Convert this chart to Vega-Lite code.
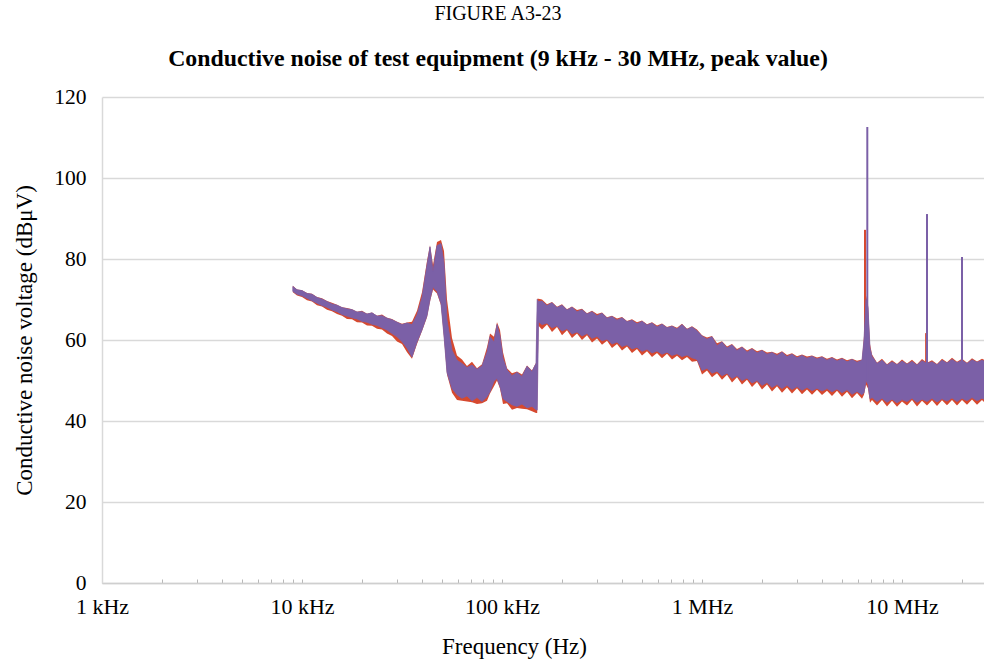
{
  "$schema": "https://vega.github.io/schema/vega-lite/v6.json",
  "width": 882,
  "height": 486,
  "autosize": {"type": "none"},
  "padding": {"left": 102, "top": 97, "right": 0, "bottom": 78},
  "background": "white",
  "title": {
    "text": "FIGURE A3-23",
    "subtitle": "Conductive noise of test equipment (9 kHz - 30 MHz, peak value)",
    "anchor": "middle",
    "frame": "group",
    "dx": -45,
    "offset": 15,
    "font": "Liberation Serif",
    "fontSize": 20,
    "fontWeight": "normal",
    "color": "#000000",
    "subtitleFont": "Liberation Serif",
    "subtitleFontSize": 23.8,
    "subtitleFontWeight": "bold",
    "subtitleColor": "#000000",
    "subtitlePadding": 23
  },
  "datasets": {
    "band": [
      {"f": 9000, "lo": 72.0, "hi": 73.2, "rlo": 71.8, "rhi": 73.4},
      {"f": 9441, "lo": 71.3, "hi": 72.4, "rlo": 71.0, "rhi": 72.5},
      {"f": 10000, "lo": 70.9, "hi": 72.2, "rlo": 70.6, "rhi": 72.3},
      {"f": 10593, "lo": 70.3, "hi": 71.5, "rlo": 69.8, "rhi": 71.6},
      {"f": 11220, "lo": 69.7, "hi": 71.3, "rlo": 69.5, "rhi": 71.4},
      {"f": 11885, "lo": 69.1, "hi": 70.5, "rlo": 68.6, "rhi": 70.6},
      {"f": 12589, "lo": 68.5, "hi": 70.1, "rlo": 68.3, "rhi": 70.3},
      {"f": 13335, "lo": 68.1, "hi": 69.5, "rlo": 67.5, "rhi": 69.6},
      {"f": 14125, "lo": 67.4, "hi": 68.9, "rlo": 67.1, "rhi": 69.2},
      {"f": 14962, "lo": 67.0, "hi": 68.6, "rlo": 66.4, "rhi": 68.7},
      {"f": 15849, "lo": 66.3, "hi": 68.0, "rlo": 66.0, "rhi": 68.1},
      {"f": 16788, "lo": 65.9, "hi": 67.7, "rlo": 65.2, "rhi": 67.9},
      {"f": 17783, "lo": 65.5, "hi": 67.5, "rlo": 65.1, "rhi": 67.6},
      {"f": 18836, "lo": 65.2, "hi": 66.9, "rlo": 64.4, "rhi": 67.0},
      {"f": 19953, "lo": 64.6, "hi": 67.0, "rlo": 64.3, "rhi": 67.2},
      {"f": 21135, "lo": 64.4, "hi": 66.4, "rlo": 63.6, "rhi": 66.5},
      {"f": 22387, "lo": 63.9, "hi": 66.7, "rlo": 63.5, "rhi": 66.8},
      {"f": 23714, "lo": 63.6, "hi": 65.9, "rlo": 62.8, "rhi": 66.0},
      {"f": 25119, "lo": 63.0, "hi": 66.0, "rlo": 62.6, "rhi": 66.3},
      {"f": 26607, "lo": 62.5, "hi": 65.4, "rlo": 61.6, "rhi": 65.5},
      {"f": 28184, "lo": 61.6, "hi": 65.0, "rlo": 61.0, "rhi": 65.2},
      {"f": 29854, "lo": 60.8, "hi": 64.4, "rlo": 59.6, "rhi": 64.5},
      {"f": 31623, "lo": 59.6, "hi": 63.8, "rlo": 59.0, "rhi": 64.0},
      {"f": 33497, "lo": 58.0, "hi": 64.2, "rlo": 57.0, "rhi": 64.3},
      {"f": 35481, "lo": 55.8, "hi": 63.8, "rlo": 55.4, "rhi": 64.5},
      {"f": 37584, "lo": 59.5, "hi": 66.2, "rlo": 59.0, "rhi": 67.2},
      {"f": 39811, "lo": 62.5, "hi": 70.5, "rlo": 62.2, "rhi": 71.8},
      {"f": 42170, "lo": 66.0, "hi": 78.5, "rlo": 65.6, "rhi": 79.5},
      {"f": 43652, "lo": 70.0, "hi": 83.0, "rlo": 69.5, "rhi": 83.4},
      {"f": 45186, "lo": 73.0, "hi": 77.0, "rlo": 72.5, "rhi": 78.5},
      {"f": 47315, "lo": 72.0, "hi": 83.3, "rlo": 71.5, "rhi": 84.2},
      {"f": 49545, "lo": 69.0, "hi": 83.8, "rlo": 68.6, "rhi": 84.7},
      {"f": 51286, "lo": 61.0, "hi": 79.0, "rlo": 60.5, "rhi": 82.0},
      {"f": 53088, "lo": 52.0, "hi": 65.0, "rlo": 51.5, "rhi": 70.0},
      {"f": 56234, "lo": 48.0, "hi": 57.5, "rlo": 47.0, "rhi": 60.5},
      {"f": 59566, "lo": 46.5, "hi": 55.0, "rlo": 45.2, "rhi": 56.2},
      {"f": 63096, "lo": 45.6, "hi": 54.2, "rlo": 45.0, "rhi": 55.2},
      {"f": 66834, "lo": 46.2, "hi": 53.2, "rlo": 44.8, "rhi": 53.6},
      {"f": 70795, "lo": 45.0, "hi": 53.8, "rlo": 44.6, "rhi": 54.6},
      {"f": 74989, "lo": 45.8, "hi": 52.8, "rlo": 44.2, "rhi": 53.0},
      {"f": 79433, "lo": 44.8, "hi": 53.6, "rlo": 44.4, "rhi": 54.0},
      {"f": 84140, "lo": 46.0, "hi": 57.0, "rlo": 45.0, "rhi": 58.2},
      {"f": 87096, "lo": 47.2, "hi": 60.8, "rlo": 46.8, "rhi": 61.6},
      {"f": 91201, "lo": 49.8, "hi": 59.5, "rlo": 48.6, "rhi": 60.8},
      {"f": 94406, "lo": 50.5, "hi": 63.8, "rlo": 50.0, "rhi": 64.4},
      {"f": 97724, "lo": 48.5, "hi": 61.0, "rlo": 48.0, "rhi": 62.5},
      {"f": 101158, "lo": 45.5, "hi": 55.5, "rlo": 44.2, "rhi": 57.0},
      {"f": 105925, "lo": 44.8, "hi": 52.6, "rlo": 44.4, "rhi": 53.0},
      {"f": 112202, "lo": 44.0, "hi": 51.2, "rlo": 42.8, "rhi": 51.8},
      {"f": 118850, "lo": 43.6, "hi": 52.0, "rlo": 43.2, "rhi": 52.2},
      {"f": 125893, "lo": 44.2, "hi": 51.0, "rlo": 43.0, "rhi": 51.5},
      {"f": 133352, "lo": 43.3, "hi": 53.5, "rlo": 42.9, "rhi": 53.7},
      {"f": 141254, "lo": 43.6, "hi": 52.2, "rlo": 42.4, "rhi": 52.5},
      {"f": 147911, "lo": 42.8, "hi": 54.2, "rlo": 42.0, "rhi": 54.4},
      {"f": 150000, "lo": 42.7, "hi": 70.0, "rlo": 42.0, "rhi": 70.2},
      {"f": 152230, "lo": 64.5, "hi": 69.5, "rlo": 63.5, "rhi": 70.2},
      {"f": 158489, "lo": 63.8, "hi": 69.6, "rlo": 62.6, "rhi": 70.0},
      {"f": 167880, "lo": 64.2, "hi": 68.5, "rlo": 63.8, "rhi": 68.8},
      {"f": 177828, "lo": 63.0, "hi": 69.2, "rlo": 62.0, "rhi": 69.4},
      {"f": 188365, "lo": 63.5, "hi": 68.0, "rlo": 63.2, "rhi": 68.2},
      {"f": 199526, "lo": 62.2, "hi": 68.6, "rlo": 61.2, "rhi": 68.8},
      {"f": 211349, "lo": 62.8, "hi": 67.4, "rlo": 62.4, "rhi": 67.6},
      {"f": 223872, "lo": 61.5, "hi": 68.1, "rlo": 60.5, "rhi": 68.3},
      {"f": 237137, "lo": 62.0, "hi": 67.0, "rlo": 61.6, "rhi": 67.4},
      {"f": 251189, "lo": 61.0, "hi": 67.5, "rlo": 60.0, "rhi": 67.7},
      {"f": 266073, "lo": 61.6, "hi": 66.4, "rlo": 61.2, "rhi": 66.6},
      {"f": 281838, "lo": 60.4, "hi": 67.0, "rlo": 59.4, "rhi": 67.2},
      {"f": 298538, "lo": 60.9, "hi": 66.0, "rlo": 60.4, "rhi": 66.4},
      {"f": 316228, "lo": 59.8, "hi": 66.6, "rlo": 58.8, "rhi": 66.8},
      {"f": 334965, "lo": 60.2, "hi": 65.4, "rlo": 59.8, "rhi": 65.6},
      {"f": 354813, "lo": 59.0, "hi": 65.8, "rlo": 58.0, "rhi": 66.0},
      {"f": 375837, "lo": 59.5, "hi": 64.9, "rlo": 59.0, "rhi": 65.3},
      {"f": 398107, "lo": 58.4, "hi": 65.5, "rlo": 57.4, "rhi": 65.7},
      {"f": 421697, "lo": 58.8, "hi": 64.5, "rlo": 58.4, "rhi": 64.7},
      {"f": 446684, "lo": 57.8, "hi": 64.9, "rlo": 56.8, "rhi": 65.1},
      {"f": 473151, "lo": 58.2, "hi": 64.0, "rlo": 57.8, "rhi": 64.4},
      {"f": 501187, "lo": 57.2, "hi": 64.6, "rlo": 56.2, "rhi": 64.8},
      {"f": 530884, "lo": 57.7, "hi": 63.7, "rlo": 57.2, "rhi": 63.9},
      {"f": 562341, "lo": 56.8, "hi": 64.2, "rlo": 55.8, "rhi": 64.4},
      {"f": 595662, "lo": 57.3, "hi": 63.2, "rlo": 56.8, "rhi": 63.6},
      {"f": 630957, "lo": 56.5, "hi": 63.9, "rlo": 55.5, "rhi": 64.1},
      {"f": 668344, "lo": 57.0, "hi": 63.0, "rlo": 56.6, "rhi": 63.2},
      {"f": 707946, "lo": 56.2, "hi": 63.4, "rlo": 55.2, "rhi": 63.6},
      {"f": 749894, "lo": 56.6, "hi": 62.7, "rlo": 56.1, "rhi": 63.0},
      {"f": 794328, "lo": 55.9, "hi": 63.8, "rlo": 55.0, "rhi": 64.0},
      {"f": 841395, "lo": 56.3, "hi": 62.6, "rlo": 55.8, "rhi": 62.8},
      {"f": 891251, "lo": 55.6, "hi": 63.2, "rlo": 54.6, "rhi": 63.4},
      {"f": 944061, "lo": 55.2, "hi": 62.3, "rlo": 54.8, "rhi": 62.6},
      {"f": 1000000, "lo": 52.5, "hi": 61.0, "rlo": 51.5, "rhi": 61.2},
      {"f": 1059254, "lo": 53.0, "hi": 60.2, "rlo": 52.5, "rhi": 60.6},
      {"f": 1122018, "lo": 51.8, "hi": 60.8, "rlo": 50.8, "rhi": 61.0},
      {"f": 1188502, "lo": 52.3, "hi": 58.6, "rlo": 51.8, "rhi": 59.2},
      {"f": 1258925, "lo": 51.2, "hi": 59.5, "rlo": 50.2, "rhi": 59.7},
      {"f": 1333521, "lo": 51.8, "hi": 58.0, "rlo": 51.4, "rhi": 58.4},
      {"f": 1412538, "lo": 50.5, "hi": 58.8, "rlo": 49.5, "rhi": 59.0},
      {"f": 1496236, "lo": 51.2, "hi": 57.4, "rlo": 50.8, "rhi": 57.8},
      {"f": 1584893, "lo": 50.0, "hi": 58.2, "rlo": 49.0, "rhi": 58.4},
      {"f": 1678804, "lo": 50.6, "hi": 57.0, "rlo": 50.2, "rhi": 57.4},
      {"f": 1778279, "lo": 49.4, "hi": 57.8, "rlo": 48.4, "rhi": 58.0},
      {"f": 1883649, "lo": 50.0, "hi": 56.8, "rlo": 49.6, "rhi": 57.2},
      {"f": 1995262, "lo": 48.8, "hi": 57.4, "rlo": 47.8, "rhi": 57.6},
      {"f": 2113489, "lo": 49.5, "hi": 56.5, "rlo": 49.0, "rhi": 56.9},
      {"f": 2238721, "lo": 48.3, "hi": 56.9, "rlo": 47.3, "rhi": 57.1},
      {"f": 2371374, "lo": 49.0, "hi": 56.2, "rlo": 48.6, "rhi": 56.6},
      {"f": 2511886, "lo": 48.0, "hi": 57.0, "rlo": 47.0, "rhi": 57.2},
      {"f": 2660725, "lo": 48.8, "hi": 55.9, "rlo": 48.3, "rhi": 56.3},
      {"f": 2818383, "lo": 47.8, "hi": 56.5, "rlo": 46.8, "rhi": 56.7},
      {"f": 2985383, "lo": 48.5, "hi": 55.6, "rlo": 48.1, "rhi": 56.0},
      {"f": 3162278, "lo": 47.6, "hi": 56.2, "rlo": 46.6, "rhi": 56.4},
      {"f": 3349654, "lo": 48.3, "hi": 55.5, "rlo": 47.8, "rhi": 55.9},
      {"f": 3548134, "lo": 47.5, "hi": 56.0, "rlo": 46.5, "rhi": 56.2},
      {"f": 3758374, "lo": 48.1, "hi": 55.3, "rlo": 47.7, "rhi": 55.7},
      {"f": 3981072, "lo": 47.4, "hi": 55.8, "rlo": 46.4, "rhi": 56.0},
      {"f": 4216965, "lo": 48.0, "hi": 55.0, "rlo": 47.5, "rhi": 55.4},
      {"f": 4466836, "lo": 47.2, "hi": 55.6, "rlo": 46.2, "rhi": 55.8},
      {"f": 4731513, "lo": 47.9, "hi": 54.8, "rlo": 47.5, "rhi": 55.2},
      {"f": 5011872, "lo": 47.0, "hi": 55.4, "rlo": 46.0, "rhi": 55.6},
      {"f": 5308844, "lo": 47.7, "hi": 54.6, "rlo": 47.2, "rhi": 55.0},
      {"f": 5623413, "lo": 46.6, "hi": 55.2, "rlo": 45.6, "rhi": 55.4},
      {"f": 5956621, "lo": 47.3, "hi": 54.5, "rlo": 46.9, "rhi": 54.9},
      {"f": 6309573, "lo": 46.5, "hi": 55.0, "rlo": 45.5, "rhi": 55.2},
      {"f": 6456500, "lo": 47.0, "hi": 60.0, "rlo": 46.5, "rhi": 61.0},
      {"f": 6606900, "lo": 50.0, "hi": 70.0, "rlo": 49.0, "rhi": 71.0},
      {"f": 6760800, "lo": 49.0, "hi": 68.0, "rlo": 48.0, "rhi": 69.0},
      {"f": 6918300, "lo": 45.5, "hi": 58.0, "rlo": 44.5, "rhi": 59.0},
      {"f": 7079458, "lo": 45.8, "hi": 56.0, "rlo": 45.2, "rhi": 56.4},
      {"f": 7498942, "lo": 44.8, "hi": 54.2, "rlo": 43.8, "rhi": 54.4},
      {"f": 7943282, "lo": 45.6, "hi": 55.0, "rlo": 45.2, "rhi": 55.4},
      {"f": 8413951, "lo": 44.6, "hi": 53.8, "rlo": 43.6, "rhi": 54.0},
      {"f": 8912509, "lo": 45.4, "hi": 54.6, "rlo": 45.0, "rhi": 55.0},
      {"f": 9440609, "lo": 44.5, "hi": 53.9, "rlo": 43.5, "rhi": 54.1},
      {"f": 10000000, "lo": 45.3, "hi": 54.8, "rlo": 44.8, "rhi": 55.2},
      {"f": 10592537, "lo": 44.8, "hi": 54.0, "rlo": 43.8, "rhi": 54.2},
      {"f": 11220185, "lo": 45.6, "hi": 54.7, "rlo": 45.2, "rhi": 55.1},
      {"f": 11885022, "lo": 44.6, "hi": 53.8, "rlo": 43.6, "rhi": 54.0},
      {"f": 12589254, "lo": 45.4, "hi": 54.9, "rlo": 45.0, "rhi": 55.3},
      {"f": 13335214, "lo": 44.8, "hi": 54.2, "rlo": 43.8, "rhi": 54.4},
      {"f": 14125375, "lo": 45.6, "hi": 54.6, "rlo": 45.1, "rhi": 55.0},
      {"f": 14962357, "lo": 44.7, "hi": 53.9, "rlo": 43.7, "rhi": 54.1},
      {"f": 15848932, "lo": 45.5, "hi": 55.0, "rlo": 45.1, "rhi": 55.4},
      {"f": 16788040, "lo": 44.9, "hi": 54.3, "rlo": 43.9, "rhi": 54.5},
      {"f": 17782794, "lo": 45.7, "hi": 55.2, "rlo": 45.2, "rhi": 55.6},
      {"f": 18836491, "lo": 44.8, "hi": 54.4, "rlo": 43.8, "rhi": 54.6},
      {"f": 19952623, "lo": 45.6, "hi": 55.0, "rlo": 45.2, "rhi": 55.4},
      {"f": 21134890, "lo": 45.0, "hi": 54.2, "rlo": 44.0, "rhi": 54.4},
      {"f": 22387211, "lo": 45.8, "hi": 55.1, "rlo": 45.3, "rhi": 55.5},
      {"f": 23713737, "lo": 45.0, "hi": 54.5, "rlo": 44.0, "rhi": 54.7},
      {"f": 25118864, "lo": 45.6, "hi": 55.0, "rlo": 45.2, "rhi": 55.4},
      {"f": 26302680, "lo": 45.2, "hi": 54.6, "rlo": 44.2, "rhi": 54.8}
    ],
    "spikes": [
      {"s": "red", "f": 6531000, "lo": 50, "hi": 87.2},
      {"s": "red", "f": 13200000, "lo": 50, "hi": 61.7},
      {"s": "purple", "f": 6707000, "lo": 50, "hi": 112.6},
      {"s": "purple", "f": 13335000, "lo": 50, "hi": 91.1},
      {"s": "purple", "f": 19953000, "lo": 50, "hi": 80.5}
    ]
  },
  "encoding": {
    "x": {
      "field": "f",
      "type": "quantitative",
      "scale": {"type": "log", "domain": [1000, 25704000], "nice": false},
      "axis": {
        "title": "Frequency (Hz)",
        "titleX": 412,
        "values": [1000, 2000, 3000, 4000, 5000, 6000, 7000, 8000, 9000, 10000, 20000, 30000, 40000, 50000, 60000, 70000, 80000, 90000, 100000, 200000, 300000, 400000, 500000, 600000, 700000, 800000, 900000, 1000000, 2000000, 3000000, 4000000, 5000000, 6000000, 7000000, 8000000, 9000000, 10000000, 20000000],
        "labelExpr": "datum.value == 1000 ? '1 kHz' : datum.value == 10000 ? '10 kHz' : datum.value == 100000 ? '100 kHz' : datum.value == 1000000 ? '1 MHz' : datum.value == 10000000 ? '10 MHz' : ''",
        "labelOverlap": false,
        "labelBound": false,
        "labelFlush": false,
        "grid": false,
        "tickSize": -4,
        "tickColor": "#b8b8b8",
        "tickWidth": 1,
        "labelPadding": 17,
        "domainColor": "#cfcfcf",
        "domainWidth": 1.5,
        "titlePadding": 18
      }
    }
  },
  "layer": [
    {
      "data": {"name": "band"},
      "mark": {"type": "area", "color": "#d6492f", "clip": true},
      "encoding": {
        "y": {
          "field": "rlo",
          "type": "quantitative",
          "scale": {"domain": [0, 120], "nice": false},
          "title": "Conductive noise voltage (dBμV)",
          "axis": {
            "values": [0, 20, 40, 60, 80, 100, 120],
            "grid": true,
            "gridColor": "#d9d9d9",
            "gridWidth": 1.5,
            "tickSize": 0,
            "labelPadding": 16,
            "labelFontSize": 21.5,
            "domainColor": "#d9d9d9",
            "domainWidth": 1.5,
            "titlePadding": 17
          }
        },
        "y2": {"field": "rhi"}
      }
    },
    {
      "data": {"name": "spikes"},
      "transform": [{"filter": "datum.s == 'red'"}],
      "mark": {"type": "rule", "color": "#d6492f", "strokeWidth": 2, "clip": true},
      "encoding": {
        "y": {"field": "lo", "type": "quantitative", "title": "Conductive noise voltage (dBμV)"},
        "y2": {"field": "hi"}
      }
    },
    {
      "data": {"name": "band"},
      "mark": {"type": "area", "color": "#7b60a7", "clip": true, "stroke": "#7b60a7", "strokeWidth": 0.8},
      "encoding": {
        "y": {"field": "lo", "type": "quantitative", "title": "Conductive noise voltage (dBμV)"},
        "y2": {"field": "hi"}
      }
    },
    {
      "data": {"name": "spikes"},
      "transform": [{"filter": "datum.s == 'purple'"}],
      "mark": {"type": "rule", "color": "#7b60a7", "strokeWidth": 2, "clip": true},
      "encoding": {
        "y": {"field": "lo", "type": "quantitative", "title": "Conductive noise voltage (dBμV)"},
        "y2": {"field": "hi"}
      }
    }
  ],
  "config": {
    "font": "Liberation Serif",
    "view": {"stroke": null},
    "axis": {
      "labelFont": "Liberation Serif",
      "labelFontSize": 22,
      "labelColor": "#000000",
      "titleFont": "Liberation Serif",
      "titleFontSize": 23,
      "titleFontWeight": "normal",
      "titleColor": "#000000"
    }
  }
}
